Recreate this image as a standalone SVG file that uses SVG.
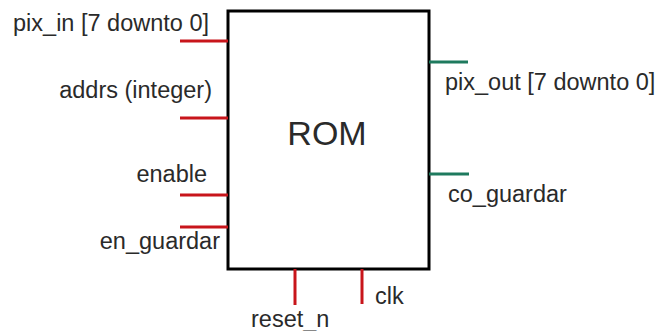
<svg xmlns="http://www.w3.org/2000/svg" width="660" height="331" viewBox="0 0 660 331">
<style>
text{font-family:"Liberation Sans",Arial,Helvetica,sans-serif;font-size:23.5px;fill:#2a2a2a}
.in{stroke:#c8151b;stroke-width:3;fill:none}
.out{stroke:#1e7a5e;stroke-width:3;fill:none}
</style>
<rect width="660" height="331" fill="#fff"/>
<g id="rom">
<rect x="228" y="11" width="201" height="258" fill="#fff" stroke="#000" stroke-width="3"/>
<text x="327" y="145" text-anchor="middle" style="font-size:34px">ROM</text>
</g>
<g id="connectors">
<line class="in" x1="180" y1="41" x2="228" y2="41"/>
<line class="in" x1="180" y1="118" x2="228" y2="118"/>
<line class="in" x1="180" y1="195" x2="228" y2="195"/>
<line class="in" x1="180" y1="227" x2="228" y2="227"/>
<line class="out" x1="429" y1="62" x2="468" y2="62"/>
<line class="out" x1="429" y1="174" x2="469" y2="174"/>
<line class="in" x1="295" y1="269" x2="295" y2="305"/>
<line class="in" x1="362" y1="269" x2="362" y2="304"/>
</g>
<g id="pix_in"><text x="209" y="31" text-anchor="end">pix_in [7 downto 0]</text></g>
<g id="addrs"><text x="212" y="98" text-anchor="end">addrs (integer)</text></g>
<g id="enable"><text x="207" y="182" text-anchor="end">enable</text></g>
<g id="en_guardar"><text x="220" y="249" text-anchor="end">en_guardar</text></g>
<g id="pix_out"><text x="445" y="90">pix_out [7 downto 0]</text></g>
<g id="co_guardar"><text x="448" y="202">co_guardar</text></g>
<g id="reset_n"><text x="251" y="327">reset_n</text></g>
<g id="clk"><text x="375" y="304">clk</text></g>
</svg>
